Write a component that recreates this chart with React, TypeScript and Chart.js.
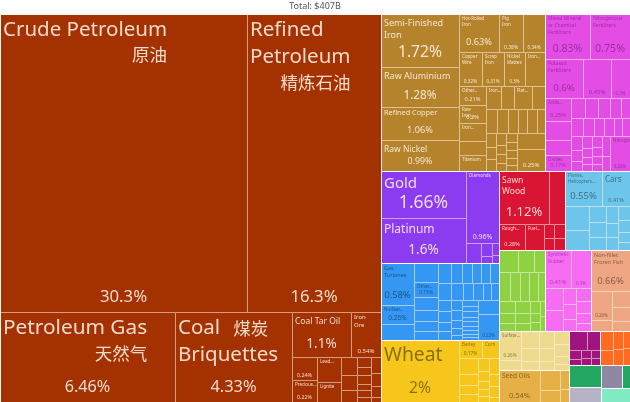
import React, { useEffect, useRef } from "react";
import { Chart, registerables } from "chart.js";

Chart.register(...registerables);

const TITLE = "Total: $407B";

// ---- values (share of total exports, %) ----
const mineralShares = [30.3, 16.3, 6.46, 4.33, 1.1, 0.54, 0.24, 0.22, 0.24, 0.2, 0.12, 0.1, 0.08, 0.06, 0.05, 0.05, 0.04, 0.04, 0.03, 0.06, 0.05, 0.04, 0.02];
const mineralNames = ["Crude Petroleum", "Refined Petroleum", "Petroleum Gas", "Coal Briquettes", "Coal Tar Oil", "Iron Ore", "%", "Precious...", "Lead...", "Lignite"];

const metalShares = [1.72, 1.28, 1.06, 0.99, 0.63, 0.38, 0.34, 0.32, 0.31, 0.3, 0.28, 0.21, 0.2, 0.19, 0.16, 0.17, 0.14, 0.13, 0.17, 0.12, 0.11, 0.1, 0.1, 0.09, 0.09, 0.08, 0.06, 0.05, 0.05, 0.05, 0.04, 0.04, 0.03, 0.04, 0.035, 0.03, 0.03, 0.025, 0.19, 0.25];
const metalNames = ["Semi-Finished Iron", "Raw Aluminium", "Refined Copper", "Raw Nickel", "Hot-Rolled Iron", "Pig Iron", "%", "Copper Wire", "Scrap Iron", "Nickel Mattes", "Iron...", "Other...", "Raw Iron...", "Iron...", "", "Titanium", "Iron...", "", "Flat...", "", ...Array(19).fill(""), "%"];

const chemicalShares = [0.83, 0.75, 0.6, 0.45, 0.3, 0.25, 0.2, 0.16, 0.17, 0.12, 0.11, 0.1, 0.09, 0.08, 0.09, 0.08, 0.07, 0.07, 0.06, 0.06, 0.06, 0.05, 0.04, 0.05, 0.04, 0.03, 0.03, 0.04, 0.035, 0.03, 0.025, 0.07, 0.05, 0.28];
const chemicalNames = ["Mixed Mineral or Chemical Fertilizers", "Nitrogenous Fertilizers", "Potassic Fertilizers", "%", "%", "Acids...", "", "", "Oxides", ...Array(24).fill(""), "Nitrogen..."];

const preciousShares = [1.66, 1.6, 0.96, 0.12, 0.06, 0.03, 0.03, 0.02];
const preciousNames = ["Gold", "Platinum", "Diamonds"];

const machineShares = [0.58, 0.26, 0.22, 0.19, 0.15, 0.13, 0.11, 0.1, 0.09, 0.1, 0.09, 0.08, 0.08, 0.07, 0.07, 0.09, 0.08, 0.07, 0.07, 0.06, 0.05, 0.06, 0.055, 0.05, 0.045, 0.05, 0.045, 0.04, 0.03, 0.025, 0.04, 0.035, 0.035, 0.03, 0.03, 0.025, 0.025, 0.02, 0.02, 0.12, 0.22];
const machineNames = ["Gas Turbines", "Nuclear...", "", "", "Other...", ...Array(35).fill(""), "%"];

const vegetableShares = [2, 0.17, 0.12, 0.12, 0.08, 0.07, 0.06, 0.06, 0.05, 0.04, 0.03, 0.03, 0.06, 0.05, 0.04, 0.02];
const vegetableNames = ["Wheat", "Barley", "Corn"];

const woodShares = [1.12, 0.34, 0.28, 0.19, 0.06, 0.05, 0.06, 0.05];
const woodNames = ["Sawn Wood", "", "Rough...", "Fuel..."];

const transportShares = [0.55, 0.41, 0.24, 0.2, 0.11, 0.1, 0.09, 0.08, 0.07, 0.06, 0.07, 0.06, 0.05, 0.04];
const transportNames = ["Planes, Helicopters...", "Cars"];

const foodShares = [0.18, 0.15, 0.1, 0.13, 0.12, 0.11, 0.1, 0.09, 0.08, 0.07, 0.06, 0.07, 0.06, 0.05, 0.05, 0.04, 0.04, 0.03, 0.03];
const plasticShares = [0.41, 0.3, 0.16, 0.15, 0.09, 0.08, 0.07, 0.08, 0.07, 0.06, 0.05];
const plasticNames = ["Synthetic Rubber", "%"];
const animalShares = [0.66, 0.26, 0.1, 0.12, 0.1, 0.08];
const animalNames = ["Non-fillet Frozen Fish", "%"];
const stoneShares = [0.26, 0.1, 0.12, 0.1, 0.07, 0.1, 0.08, 0.06, 0.08, 0.07, 0.05, 0.04];
const stoneNames = ["Sulfate..."];
const oilShares = [0.54, 0.16, 0.1, 0.07, 0.05];
const oilNames = ["Seed Oils"];
const artShares = [0.14, 0.1, 0.04, 0.03, 0.03, 0.025, 0.03, 0.025];
const instrumentShares = [0.1, 0.08, 0.07, 0.06, 0.05, 0.05];
const textileShares = [0.29];
const paperShares = [0.2];
const weaponShares = [0.2];
const textile2Shares = [0.08];
const glassShares = [0.16];

const chineseNotes: Record<string, string> = {
  "Crude Petroleum": "原油",
  "Refined Petroleum": "精炼石油",
  "Petroleum Gas": "天然气",
  "Coal Briquettes": "煤炭",
};

// ---- styles ----
const LIGHT_INK = "rgba(255,246,236,0.86)";
const DARK_INK = "rgba(0,0,0,0.45)";
const MID_INK = "rgba(60,0,70,0.42)";
const LATIN = '"Noto Sans", "DejaVu Sans", sans-serif';
const CJK = '"Noto Sans CJK SC", sans-serif';

// [name font px, share font px]
const LABEL_FONT: Record<string, [number, number]> = {
  "Crude Petroleum": [20.5, 16.8],
  "Refined Petroleum": [20.5, 16.8],
  "Petroleum Gas": [20.8, 16.2],
  "Coal Briquettes": [20.5, 16.4],
  "Coal Tar Oil": [8.5, 13.5],
  "Iron Ore": [6, 6],
  "Semi-Finished Iron": [9, 15.7],
  "Raw Aluminium": [9, 11.8],
  "Refined Copper": [7.3, 9.2],
  "Raw Nickel": [8.5, 8.8],
  "Hot-Rolled Iron": [4.5, 9.2],
  "Pig Iron": [4.5, 5],
  "Mixed Mineral or Chemical Fertilizers": [5, 10.5],
  "Nitrogenous Fertilizers": [5, 10.7],
  "Potassic Fertilizers": [5, 9.7],
  "Gold": [15, 17.5],
  "Platinum": [12, 13.5],
  "Diamonds": [4.5, 7],
  "Sawn Wood": [8.5, 13],
  "Planes, Helicopters...": [4.5, 9.5],
  "Cars": [8, 5.5],
  "Gas Turbines": [5.5, 9.3],
  "Wheat": [19.3, 15.6],
  "Synthetic Rubber": [4.8, 6],
  "Non-fillet Frozen Fish": [5.5, 9.5],
  "Seed Oils": [6.5, 7.5],
};
const CN_FONT = 17.5;
const CN_INLINE = new Set(["Coal Briquettes"]);
const NAME_ONLY = new Set(["Lead...", "Lignite", "Titanium", "Corn", "Fuel...", "Flat...", "Iron..."]);

type Split = 1 | any[];
interface Section { shares: number[]; names: string[]; split: Split; fill: string; ink: string }

const SECTIONS: Record<string, Section> = {
  mineral: { shares: mineralShares, names: mineralNames, fill: "#A33200", ink: LIGHT_INK,
    split: ["v", ["h", 1, 1], ["h", 1, 1, ["v", ["h", 1, 1], ["h", ["v", 1, 1], ["v", 1, 1], ["v", 1, 1, 1], ["v", 1, 1, 1, 1, 1, 1], ["v", 1, 1, 1, 1]]]]] },
  metals: { shares: metalShares, names: metalNames, fill: "#B5832C", ink: LIGHT_INK,
    split: ["h", ["v", 1, 1, 1, 1], ["v", ["h", 1, 1, 1], ["h", 1, 1, 1, 1], ["h", ["v", 1, 1, 1, 1, 1], ["v", ["h", 1, 1, 1, 1], ["h", 1, 1, 1, 1, 1, 1], ["h", ["v", 1, 1, 1], ["v", 1, 1, 1, 1], ["v", 1, 1, 1, 1, 1], ["v", 1, 1]]]]]] },
  chemicals: { shares: chemicalShares, names: chemicalNames, fill: "#E34DE5", ink: MID_INK,
    split: ["v", ["h", 1, 1], ["h", 1, 1, 1], ["h", ["v", 1, 1, 1, 1], ["v", ["h", 1, 1, 1, 1, 1], ["h", 1, 1, 1, 1, 1, 1], ["h", ["v", 1, 1, 1], ["v", 1, 1, 1, 1], ["v", 1, 1, 1, 1], ["v", 1, 1], 1]]]] },
  precious: { shares: preciousShares, names: preciousNames, fill: "#8C3CF0", ink: LIGHT_INK,
    split: ["h", ["v", 1, 1], ["v", 1, ["h", 1, ["v", 1, 1], ["v", 1, 1]]]] },
  machines: { shares: machineShares, names: machineNames, fill: "#3497F3", ink: DARK_INK,
    split: ["h", ["v", 1, 1, 1], ["v", 1, 1, 1, 1, 1, 1], ["v", ["h", 1, 1, 1, 1, 1, 1], ["h", 1, 1, 1, 1, 1, 1], ["h", ["v", 1, 1, 1, 1], ["v", 1, 1, 1, 1, 1], ["v", 1, 1, 1, 1, 1, 1, 1, 1, 1], ["v", 1, 1]]]] },
  vegetables: { shares: vegetableShares, names: vegetableNames, fill: "#F6C71A", ink: DARK_INK,
    split: ["h", 1, ["v", ["h", 1, 1], ["h", ["v", 1, 1, 1, 1], ["v", 1, 1, 1, 1, 1], ["v", 1, 1, 1, 1]]]] },
  wood: { shares: woodShares, names: woodNames, fill: "#DA1433", ink: LIGHT_INK,
    split: ["v", ["h", 1, 1], ["h", 1, 1, ["v", 1, 1], ["v", 1, 1]]] },
  transport: { shares: transportShares, names: transportNames, fill: "#6EC5EC", ink: DARK_INK,
    split: ["v", ["h", 1, 1], ["h", ["v", 1, 1], ["v", 1, 1, 1], ["v", 1, 1, 1], ["v", 1, 1, 1, 1]]] },
  foodstuffs: { shares: foodShares, names: [], fill: "#8ED244", ink: DARK_INK,
    split: ["v", ["h", 1, 1, 1], ["h", 1, 1, 1, 1, 1], ["h", ["v", 1, 1, 1], ["v", 1, 1, 1], ["v", 1, 1, 1], ["v", 1, 1]]] },
  plastics: { shares: plasticShares, names: plasticNames, fill: "#F66DF3", ink: MID_INK,
    split: ["v", ["h", 1, 1], ["h", ["v", 1, 1], ["v", 1, 1, 1], ["v", 1, 1, 1, 1]]] },
  animals: { shares: animalShares, names: animalNames, fill: "#EEA683", ink: DARK_INK,
    split: ["v", 1, ["h", ["v", 1, 1], ["v", 1, 1, 1]]] },
  stone: { shares: stoneShares, names: stoneNames, fill: "#EFDB8F", ink: DARK_INK,
    split: ["h", ["v", 1, 1], ["v", 1, 1, 1], ["v", 1, 1, 1], ["v", 1, 1, 1, 1]] },
  oils: { shares: oilShares, names: oilNames, fill: "#E7B046", ink: DARK_INK,
    split: ["h", 1, ["v", 1, 1], ["v", 1, 1]] },
  arts: { shares: artShares, names: [], fill: "#A1137F", ink: LIGHT_INK,
    split: ["v", ["h", 1, 1], ["h", ["v", 1, 1], ["v", 1, 1], ["v", 1, 1]]] },
  instruments: { shares: instrumentShares, names: [], fill: "#FF6C1F", ink: LIGHT_INK,
    split: ["h", ["v", 1, 1], ["v", 1, 1], ["v", 1, 1]] },
  textiles: { shares: textileShares, names: [], fill: "#22A862", ink: LIGHT_INK, split: 1 },
  paper: { shares: paperShares, names: [], fill: "#B6B3C6", ink: DARK_INK, split: 1 },
  weapons: { shares: weaponShares, names: [], fill: "#8E88A4", ink: LIGHT_INK, split: 1 },
  textiles2: { shares: textile2Shares, names: [], fill: "#22A862", ink: LIGHT_INK, split: 1 },
  glass: { shares: glassShares, names: [], fill: "#80EBC2", ink: DARK_INK, split: 1 },
};

const ROOT: any[] = ["h", "mineral", ["v", ["h", "metals", "chemicals"], ["h", ["v", "precious", "machines", "vegetables"], ["v", ["h", "wood", "transport"], ["h", "foodstuffs", "plastics", "animals"], ["h", ["v", "stone", "oils"], ["v", ["h", "arts", "instruments"], ["h", ["v", "textiles", "paper"], ["v", ["h", "weapons", "textiles2"], "glass"]]]]]]]];

interface TNode { value: number; dir?: string; kids?: TNode[]; sec: string; idx?: number; secRoot?: string }

function buildSplit(spec: Split, sec: string, cur: { i: number }): TNode {
  if (spec === 1) {
    const i = cur.i++;
    return { value: SECTIONS[sec].shares[i], sec, idx: i };
  }
  const [dir, ...rest] = spec as any[];
  const kids = rest.map((s) => buildSplit(s, sec, cur));
  return { dir, kids, sec, value: kids.reduce((a, k) => a + k.value, 0) };
}

function buildRoot(spec: any): TNode {
  if (typeof spec === "string") {
    const n = buildSplit(SECTIONS[spec].split, spec, { i: 0 });
    n.secRoot = spec;
    return n;
  }
  const [dir, ...rest] = spec;
  const kids = rest.map(buildRoot);
  return { dir, kids, sec: "", value: kids.reduce((a: number, k: TNode) => a + k.value, 0) };
}

interface Box { x0: number; y0: number; x1: number; y1: number; sec: string; idx: number }
const leaves: Box[] = [];
const sectionBoxes: Box[] = [];

function place(n: TNode, x0: number, y0: number, x1: number, y1: number) {
  if (n.secRoot) sectionBoxes.push({ x0, y0, x1, y1, sec: n.secRoot, idx: -1 });
  if (!n.kids) {
    leaves.push({ x0, y0, x1, y1, sec: n.sec, idx: n.idx as number });
    return;
  }
  let acc = 0;
  for (const k of n.kids) {
    const f0 = acc / n.value;
    acc += k.value;
    const f1 = acc / n.value;
    if (n.dir === "h") place(k, x0 + (x1 - x0) * f0, y0, x0 + (x1 - x0) * f1, y1);
    else place(k, x0, y0 + (y1 - y0) * f0, x1, y0 + (y1 - y0) * f1);
  }
}
place(buildRoot(ROOT), 0, 0, 100, 100);

function wrapText(ctx: CanvasRenderingContext2D, text: string, maxW: number): string[] {
  const words = text.split(" ");
  const lines: string[] = [];
  let cur = "";
  for (const w of words) {
    const t = cur ? cur + " " + w : w;
    if (!cur || ctx.measureText(t).width <= maxW) cur = t;
    else {
      lines.push(cur);
      cur = w;
    }
  }
  if (cur) lines.push(cur);
  return lines;
}

const treemapPlugin = {
  id: "treemapCells",
  afterDatasetsDraw(chart: any) {
    const { ctx } = chart;
    const xs = chart.scales.x;
    const ys = chart.scales.y;
    const px = (v: number) => Math.round(xs.getPixelForValue(v));
    const py = (v: number) => Math.round(ys.getPixelForValue(v));
    const pts = chart.data.datasets[0].data as any[];
    ctx.save();
    for (const p of pts) {
      const X0 = px(p.x0), X1 = px(p.x1), Y0 = py(p.y0), Y1 = py(p.y1);
      ctx.fillStyle = SECTIONS[p.sec].fill;
      ctx.fillRect(X0, Y0, X1 - X0, Y1 - Y0);
    }
    ctx.lineWidth = 1;
    ctx.strokeStyle = "rgba(255,246,232,0.55)";
    ctx.beginPath();
    for (const p of pts) {
      const X0 = px(p.x0), X1 = px(p.x1), Y0 = py(p.y0), Y1 = py(p.y1);
      ctx.moveTo(X0 + 0.5, Y1);
      ctx.lineTo(X0 + 0.5, Y0 + 0.5);
      ctx.lineTo(X1, Y0 + 0.5);
    }
    ctx.stroke();
    ctx.strokeStyle = "rgba(255,255,255,0.92)";
    ctx.beginPath();
    for (const b of sectionBoxes) {
      const X0 = px(b.x0), X1 = px(b.x1), Y0 = py(b.y0), Y1 = py(b.y1);
      ctx.moveTo(X0 + 0.5, Y1);
      ctx.lineTo(X0 + 0.5, Y0 + 0.5);
      ctx.lineTo(X1, Y0 + 0.5);
    }
    ctx.stroke();

    ctx.textBaseline = "middle";
    for (const p of pts) {
      const sec = SECTIONS[p.sec];
      const name = sec.names[p.idx] || "";
      if (!name) continue;
      const X0 = px(p.x0), X1 = px(p.x1), Y0 = py(p.y0), Y1 = py(p.y1);
      const w = X1 - X0;
      const share = sec.shares[p.idx];
      const style = LABEL_FONT[name];
      const pctSize = style ? style[1] : Math.max(4.5, Math.min(6.5, w * 0.21));
      ctx.fillStyle = sec.ink;
      if (name !== "%") {
        const fs = style ? style[0] : 4.5;
        ctx.font = `${fs}px ${LATIN}`;
        ctx.textAlign = "left";
        const maxW = fs < 8 ? Math.min(w - 8, w * 0.78) : w - 8;
        const lines = wrapText(ctx, name, maxW);
        const first = Y0 + (fs < 8 ? 2.2 : 4.8) + 0.55 * fs;
        const lh = 1.33 * fs;
        lines.forEach((ln, i) => ctx.fillText(ln, X0 + 3, first + i * lh));
        const note = chineseNotes[name];
        if (note) {
          if (CN_INLINE.has(name)) {
            const endX = X0 + 3 + ctx.measureText(lines[0]).width + 13;
            ctx.font = `${CN_FONT}px ${CJK}`;
            ctx.fillText(note, endX, first);
          } else {
            const last = lines[lines.length - 1];
            const endX = X0 + 3 + ctx.measureText(last).width;
            ctx.font = `${CN_FONT}px ${CJK}`;
            ctx.textAlign = "right";
            ctx.fillText(note, endX, first + (lines.length - 1) * lh + 1.2 * fs);
          }
        }
      }
      if (name === "%" || !NAME_ONLY.has(name)) {
        ctx.font = `${pctSize}px ${LATIN}`;
        ctx.textAlign = "center";
        const off = pctSize < 8 ? 1.8 + 0.6 * pctSize : 3 + 0.7 * pctSize;
        ctx.fillText(`${share}%`, (X0 + X1) / 2, Y1 - off);
      }
    }
    ctx.restore();
  },
};

export default function App() {
  const ref = useRef<HTMLCanvasElement | null>(null);
  useEffect(() => {
    document.body.style.margin = "0";
    if (!ref.current) return;
    const data = leaves.map((l) => ({ x: (l.x0 + l.x1) / 2, y: (l.y0 + l.y1) / 2, ...l }));
    const chart = new Chart(ref.current, {
      type: "scatter",
      data: { datasets: [{ data, pointRadius: 0, pointHoverRadius: 0 } as any] },
      options: {
        responsive: false,
        animation: false,
        events: [],
        layout: { padding: 0 },
        scales: {
          x: { type: "linear", min: 0, max: 100, display: false },
          y: { type: "linear", min: 0, max: 100, reverse: true, display: false },
        },
        plugins: {
          legend: { display: false },
          tooltip: { enabled: false },
          title: {
            display: true,
            text: TITLE,
            color: "#555",
            font: { family: LATIN, size: 9, weight: "normal" as any },
            padding: { top: 1, bottom: 2 },
          },
        },
      },
      plugins: [treemapPlugin],
    });
    return () => chart.destroy();
  }, []);
  return (
    <div style={{ width: 630, height: 402, background: "#fff" }}>
      <canvas ref={ref} width={630} height={402} />
    </div>
  );
}
